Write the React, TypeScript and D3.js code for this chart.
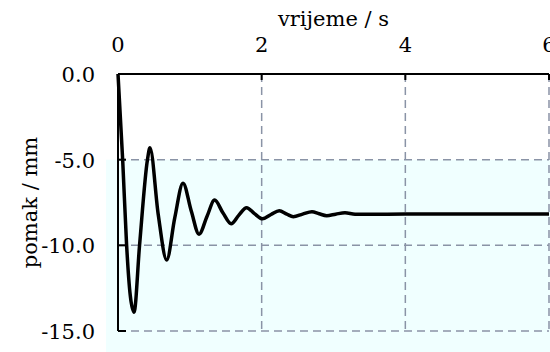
import React from "react";
import * as d3 from "d3";

const xTicks = [0, 2, 4, 6];
const yTicks = [0, -5, -10, -15];
const yTickLabels = ["0.0", "-5.0", "-10.0", "-15.0"];
const xTitle = "vrijeme / s";
const yTitle = "pomak / mm";

const timeS = [
  0, 0.065, 0.12, 0.17, 0.223, 0.3, 0.41, 0.445, 0.56, 0.678, 0.79, 0.905, 1.02, 1.128,
  1.24, 1.345, 1.46, 1.575, 1.68, 1.79, 1.9, 2.01, 2.13, 2.245, 2.35, 2.44, 2.57, 2.7,
  2.8, 2.905, 3.03, 3.16, 3.3, 3.5, 4.0, 6.0,
];
const displacementMm = [
  0, -5, -10, -12.9, -13.9, -10, -5, -4.3, -8.2, -10.85, -8.4, -6.37, -8.0, -9.35,
  -8.3, -7.36, -8.1, -8.74, -8.25, -7.8, -8.15, -8.45, -8.2, -7.98, -8.18, -8.33, -8.18, -8.04,
  -8.16, -8.27, -8.18, -8.1, -8.18, -8.19, -8.17, -8.17,
];
const bandRange = [-5, -17.2];

const W = 550;
const H = 352;
const font = "DejaVu Serif";

export default function App() {
  const x = d3.scaleLinear().domain([0, 6]).range([118, 549]);
  const y = d3.scaleLinear().domain([0, -15]).range([74, 331]);
  const pts: [number, number][] = timeS.map((t, i) => [t, displacementMm[i]]);
  const line = d3
    .line<[number, number]>()
    .x((d) => x(d[0]))
    .y((d) => y(d[1]))
    .curve(d3.curveMonotoneX);
  const grid = "#8a93a6";
  return (
    <svg width={W} height={H} style={{ position: "absolute", left: 0, top: 0 }}>
      <rect x={106} y={y(bandRange[0])} width={W - 106} height={y(bandRange[1]) - y(bandRange[0])} fill="#f0ffff" />
      {xTicks.filter((t) => t > 0).map((t) => (
        <line key={"gx" + t} x1={x(t)} x2={x(t)} y1={y(0)} y2={y(-15)} stroke={grid} strokeWidth={1.5} strokeDasharray="8,5" />
      ))}
      {yTicks.filter((t) => t < 0).map((t) => (
        <line key={"gy" + t} x1={x(0)} x2={x(6)} y1={y(t)} y2={y(t)} stroke={grid} strokeWidth={1.5} strokeDasharray="8,5" />
      ))}
      <path d={line(pts) || ""} fill="none" stroke="#000" strokeWidth={3.5} strokeLinejoin="round" />
      <line x1={x(0)} x2={x(6)} y1={y(0)} y2={y(0)} stroke="#000" strokeWidth={2} />
      <line x1={x(0)} x2={x(0)} y1={y(0)} y2={y(-15)} stroke="#000" strokeWidth={2} />
      <g fontFamily={font} fontSize={21} fill="#000">
        {xTicks.map((t) => (
          <g key={"xt" + t}>
            <line x1={x(t)} x2={x(t)} y1={y(0)} y2={y(0) + 6} stroke="#000" strokeWidth={2} />
            <text x={x(t)} y={52} textAnchor="middle">
              {t}
            </text>
          </g>
        ))}
        {yTicks.map((t, i) => (
          <g key={"yt" + t}>
            <line x1={x(0)} x2={x(0) + 8} y1={y(t)} y2={y(t)} stroke="#000" strokeWidth={2} />
            <text x={95} y={y(t) + 8} textAnchor="end">
              {yTickLabels[i]}
            </text>
          </g>
        ))}
        <text x={(x(0) + x(6)) / 2} y={26} textAnchor="middle">
          {xTitle}
        </text>
        <text transform={`translate(37, ${(y(0) + y(-15)) / 2}) rotate(-90)`} textAnchor="middle">
          {yTitle}
        </text>
      </g>
    </svg>
  );
}
